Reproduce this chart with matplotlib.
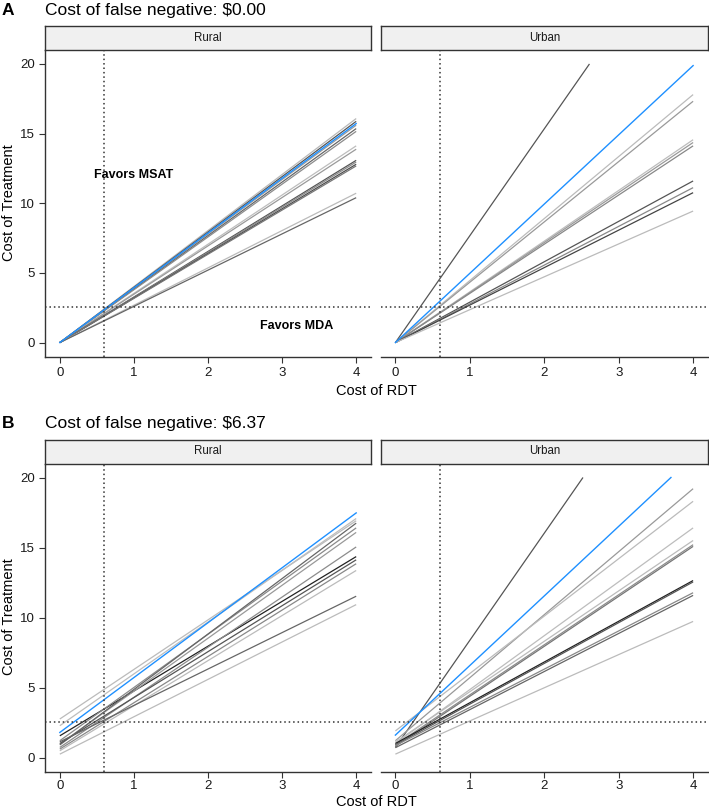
import numpy as np
import matplotlib
matplotlib.use("Agg")
import matplotlib.pyplot as plt

plt.rcParams['font.family'] = ['Liberation Sans', 'DejaVu Sans']

# cost of RDT runs 0..4, lines stop where cost of treatment reaches 20
x_max = 4
y_cap = 20
rdt_cut = 0.6
treat_cut = 2.55

# A: cost of false negative $0.00 (all lines pass through 0)
rural_a_int = [0, 0, 0, 0, 0, 0, 0, 0, 0, 0, 0, 0, 0]
rural_a_slope = [4.02, 3.97, 3.90, 3.84, 3.79, 3.53, 3.47, 3.27, 3.24, 3.20, 3.17, 2.68, 2.60]
rural_a_col = ['#b8b8b8', '#555555', '#999999', '#666666', '#8c8c8c', '#bdbdbd', '#9a9a9a',
               '#555555', '#8a8a8a', '#4d4d4d', '#777777', '#bbbbbb', '#666666']
rural_a_blue = (0, 3.93)

urban_a_int = [0, 0, 0, 0, 0, 0, 0, 0, 0, 0]
urban_a_slope = [7.67, 4.45, 4.33, 3.64, 3.59, 3.53, 2.90, 2.78, 2.69, 2.36]
urban_a_col = ['#555555', '#bbbbbb', '#999999', '#bdbdbd', '#9a9a9a', '#888888',
               '#555555', '#888888', '#444444', '#bbbbbb']
urban_a_blue = (0, 4.97)

# B: cost of false negative $6.37
rural_b_int = [2.75, 2.27, 1.55, 1.20, 0.96, 0.90, 0.72, 1.00, 0.60, 0.48, 1.12, 0.24]
rural_b_slope = [3.54, 3.70, 3.20, 3.80, 3.78, 3.96, 3.58, 3.28, 3.31, 3.22, 2.60, 2.67]
rural_b_col = ['#bbbbbb', '#bdbdbd', '#222222', '#8a8a8a', '#999999', '#666666', '#8c8c8c',
               '#555555', '#888888', '#bbbbbb', '#666666', '#bbbbbb']
rural_b_blue = (1.79, 3.92)

urban_b_int = [0.72, 1.20, 1.90, 1.00, 1.10, 0.90, 0.80, 1.00, 0.90, 0.85, 0.70, 0.24]
urban_b_slope = [7.65, 4.50, 4.10, 3.85, 3.60, 3.575, 3.57, 2.91, 2.91, 2.73, 2.72, 2.37]
urban_b_col = ['#555555', '#999999', '#bbbbbb', '#bdbdbd', '#bbbbbb', '#8c8c8c', '#777777',
               '#222222', '#555555', '#888888', '#666666', '#bbbbbb']
urban_b_blue = (1.60, 4.97)

rows = [
    ('A', 'Cost of false negative: $0.00',
     [('Rural', rural_a_int, rural_a_slope, rural_a_col, rural_a_blue),
      ('Urban', urban_a_int, urban_a_slope, urban_a_col, urban_a_blue)]),
    ('B', 'Cost of false negative: $6.37',
     [('Rural', rural_b_int, rural_b_slope, rural_b_col, rural_b_blue),
      ('Urban', urban_b_int, urban_b_slope, urban_b_col, urban_b_blue)]),
]

W, H = 709, 808
fig = plt.figure(figsize=(W / 100, H / 100), dpi=100)


def box(l, t, r, b):
    return [l / W, (H - b) / H, (r - l) / W, (b - t) / H]


def seg(b, m):
    xe = min(x_max, (y_cap - b) / m)
    x = np.array([0, xe])
    return x, b + m * x


# pixel layout per row: title baseline, strip top, panel top, panel bottom, x label baseline, tick pad
layout = [(15, 26, 50, 356.5, 395, 3.3),
          (428.3, 439.5, 463.5, 771.5, 806.5, 2.2)]
cols = [(45, 371), (380.5, 708)]
dots = (0, (1, 1.9))

for (tag, title, panels), (t_y, s_t, p_t, p_b, xl_y, pad) in zip(rows, layout):
    fig.text(2 / W, 1 - t_y / H, tag, fontsize=12.5, fontweight='bold', va='baseline')
    fig.text(45 / W, 1 - t_y / H, title, fontsize=12.5, va='baseline')
    for j, (name, ints, slopes, cols_, blue) in enumerate(panels):
        l, r = cols[j]
        ax = fig.add_axes(box(l, p_t, r, p_b))
        for b, m, c in zip(ints, slopes, cols_):
            x, y = seg(b, m)
            ax.plot(x, y, color=c, lw=0.9, solid_capstyle='butt')
        x, y = seg(*blue)
        ax.plot(x, y, color='#1e90ff', lw=1.0)
        ax.axvline(rdt_cut, color='#333333', lw=1.1, ls=dots)
        ax.axhline(treat_cut, color='#333333', lw=1.1, ls=dots)
        ax.set_xlim(-0.2, 4.2)
        ax.set_ylim(-1, 21)
        ax.set_xticks([0, 1, 2, 3, 4])
        ax.set_yticks([0, 5, 10, 15, 20])
        for s in ['top', 'right']:
            ax.spines[s].set_visible(False)
        for s in ['left', 'bottom']:
            ax.spines[s].set_color('#333333')
            ax.spines[s].set_linewidth(1.0)
        ax.tick_params(length=4, width=0.8, color='#333333', labelsize=9.5,
                       labelcolor='#1a1a1a', pad=pad)
        ax.tick_params(axis='y', pad=3)
        if j == 1:
            ax.spines['left'].set_visible(False)
            ax.tick_params(axis='y', left=False, labelleft=False)
        if tag == 'A' and j == 0:
            ax.text(1.0, 12, 'Favors MSAT', fontsize=9, fontweight='bold', ha='center', va='center')
            ax.text(3.2, 1.2, 'Favors MDA', fontsize=9, fontweight='bold', ha='center', va='center')
        # facet strip
        st = fig.add_axes(box(l, s_t, r, p_t))
        st.set_facecolor('#f0f0f0')
        st.set_xticks([])
        st.set_yticks([])
        for s in st.spines.values():
            s.set_color('#333333')
            s.set_linewidth(1.0)
        st.text(0.5, 0.5, name, fontsize=8.3, color='#1a1a1a', ha='center', va='center',
                transform=st.transAxes)
    fig.text(376 / W, 1 - xl_y / H, 'Cost of RDT', fontsize=10.5, ha='center', va='baseline')
    fig.text(9 / W, 1 - (p_t + 153) / H, 'Cost of Treatment', fontsize=10.5, rotation=90,
             ha='center', va='center')

fig.savefig('out.png', dpi=100)
